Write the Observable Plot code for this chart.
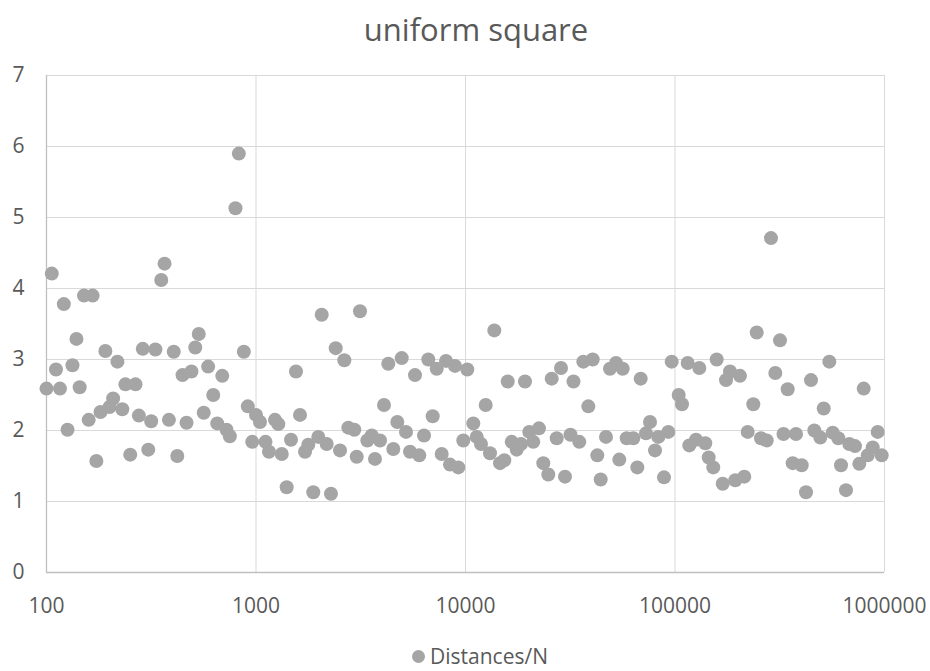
<!DOCTYPE html>
<html><head><meta charset="utf-8">
<script src="https://cdn.jsdelivr.net/npm/d3@7"></script>
<script src="https://cdn.jsdelivr.net/npm/@observablehq/plot@0.6"></script>
<style>
body{margin:0;background:#fff;font-family:'Open Sans',sans-serif;}
#wrap{width:930px;height:671px;position:relative;overflow:hidden;background:#fff;}
#title{position:absolute;left:0;top:0;width:930px;height:60px;line-height:58px;text-align:center;font-size:31px;color:#595959;box-sizing:border-box;padding-left:22px;}
#chart{position:absolute;left:0;top:60px;}
#legend{position:absolute;left:0;top:630px;width:930px;height:41px;}
#legend .sw{position:absolute;left:412px;top:20px;width:13px;height:13px;border-radius:50%;background:#A5A5A5;}
#legend .lb{position:absolute;left:430px;top:11px;line-height:30px;font-size:21px;color:#595959;white-space:nowrap;}
</style></head><body>
<div id="wrap">
<div id="title">uniform square</div>
<div id="chart"></div>
<div id="legend"><span class="sw"></span><span class="lb">Distances/N</span></div>
</div>
<script>
// N values (x) and Distances/N values (y), split by decade
const n1 = [100,106,111,116,121,126,133,139,144,151,159,166,173,181,191,200,208,218,230,238,251,266,276,288,306,316,331,353,366,384,405,421,446,466,492,513,533,563,591,625,653,690,723,750,798,828,875,914,959,1000];
const v1 = [2.59,4.21,2.86,2.59,3.78,2.01,2.92,3.29,2.61,3.90,2.15,3.90,1.57,2.26,3.12,2.33,2.45,2.97,2.30,2.65,1.66,2.65,2.21,3.15,1.73,2.13,3.14,4.12,4.35,2.15,3.11,1.64,2.78,2.11,2.83,3.17,3.36,2.25,2.90,2.50,2.10,2.77,2.01,1.92,5.13,5.90,3.11,2.34,1.84,2.22];
const n2 = [1045,1110,1153,1232,1278,1327,1401,1469,1552,1622,1714,1777,1877,1983,2059,2175,2280,2401,2518,2640,2758,2946,3025,3136,3400,3568,3698,3908,4083,4280,4522,4726,4961,5200,5434,5741,6018,6339,6644,6973,7286,7698,8072,8433,8910,9238,9761,10200];
const v2 = [2.12,1.84,1.70,2.15,2.09,1.67,1.20,1.87,2.83,2.22,1.70,1.80,1.13,1.91,3.63,1.81,1.11,3.16,1.72,2.99,2.04,2.01,1.63,3.68,1.86,1.93,1.60,1.86,2.36,2.94,1.74,2.12,3.02,1.98,1.70,2.78,1.65,1.93,3.00,2.20,2.87,1.67,2.98,1.52,2.91,1.48,1.86,2.86];
const n3 = [10895,11311,11858,12485,13089,13725,14614,15320,15902,16615,17555,18403,19231,20160,21066,22428,23518,24842,25794,27248,28566,29851,31709,32771,34930,36502,38566,40477,42570,44190,46839,48948,52288,54214,56286,58818,63241,66089,68597,72717,75989,80280,83253,88611,92897,96431];
const v3 = [2.10,1.91,1.81,2.36,1.68,3.41,1.54,1.58,2.69,1.84,1.73,1.81,2.69,1.98,1.84,2.03,1.54,1.38,2.73,1.89,2.88,1.35,1.94,2.69,1.84,2.97,2.34,3.00,1.65,1.31,1.91,2.87,2.95,1.59,2.87,1.89,1.89,1.48,2.73,1.96,2.12,1.72,1.91,1.34,1.98,2.97];
const n4 = [104160,107990,114970,117030,125940,130620,139480,144820,152310,158120,168950,175180,183020,194000,204320,214190,222330,236440,245470,257350,273990,287240,301170,317090,329500,345030,364540,378060,402500,421990,445880,462380,493880,512650,545270,565970,601840,620000,654920,679200,723100,758040,795600,831760,878560,927900,969610];
const v4 = [2.50,2.37,2.95,1.79,1.87,2.88,1.82,1.62,1.48,3.00,1.25,2.71,2.83,1.30,2.77,1.35,1.98,2.37,3.38,1.89,1.86,4.71,2.81,3.27,1.95,2.58,1.54,1.95,1.51,1.13,2.71,2.00,1.90,2.31,2.97,1.97,1.89,1.51,1.16,1.81,1.78,1.53,2.59,1.65,1.76,1.98,1.65];
const xTicks = [100,1000,10000,100000,1000000];
const yTicks = [0,1,2,3,4,5,6,7];
const seriesName = "Distances/N";

const nAll = [...n1,...n2,...n3,...n4];
const vAll = [...v1,...v2,...v3,...v4];
const data = nAll.map((n,i)=>({n, r: vAll[i]}));

const chart = Plot.plot({
  width: 930, height: 570,
  marginTop: 15, marginBottom: 58, marginLeft: 46, marginRight: 46,
  style: {fontFamily: "'Open Sans', sans-serif", fontSize: "21px", color: "#595959", background: "white", overflow: "visible"},
  x: {type: "log", domain: [100, 1000000], ticks: xTicks, tickFormat: d => String(d), label: null, tickSize: 0, tickPadding: 26},
  y: {domain: [0, 7], ticks: yTicks, tickFormat: d => String(d), label: null, tickSize: 0, tickPadding: 22},
  marks: [
    Plot.gridX(xTicks, {stroke: "#D9D9D9", strokeOpacity: 1, strokeWidth: 1}),
    Plot.gridY(yTicks, {stroke: "#D9D9D9", strokeOpacity: 1, strokeWidth: 1}),
    Plot.ruleY([0], {stroke: "#BFBFBF", strokeWidth: 1.3}),
    Plot.ruleX([100], {stroke: "#BFBFBF", strokeWidth: 1.3}),
    Plot.dot(data, {x: "n", y: "r", r: 7, fill: "#A5A5A5", stroke: "none", title: d => `${seriesName}: ${d.r}`})
  ]
});
document.getElementById("chart").appendChild(chart);
</script>
</body></html>
